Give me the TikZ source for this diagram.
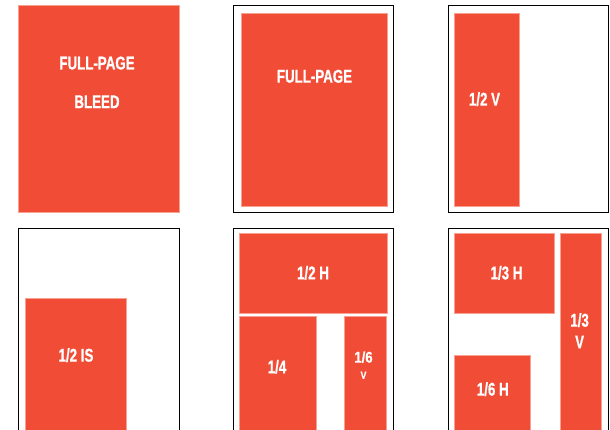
\documentclass[tikz,border=0pt]{standalone}
\usepackage{fontspec}
\setmainfont{Liberation Sans}[FakeStretch=0.72,BoldFeatures={FakeBold=0.8}]
\newfontfamily\smallfam{Liberation Sans}[FakeStretch=0.85,BoldFeatures={FakeBold=0.6}]
\definecolor{adred}{RGB}{241,76,54}
\definecolor{adedge}{RGB}{248,160,145}
\begin{document}
\begin{tikzpicture}[x=1pt,y=-1pt,
  ad/.style={fill=adred,draw=adedge,line width=0.5pt},
  page/.style={draw=black,line width=0.9pt},
  lbl/.style={text=white,font=\bfseries\fontsize{18.5}{20}\selectfont,inner sep=0pt,text height=13.3pt,text depth=0pt}]
\useasboundingbox (0,0) rectangle (610,430);
\begin{scope}
\clip (0,0) rectangle (610,430);
% top row
\path[ad] (18,5.5) rectangle (179,212.5);
\node[lbl] (fpb1) at (97,62.8) {FULL-PAGE};
\node[lbl] (fpb2) at (97,101.5) {BLEED};

\path[page] (233.5,5.5) rectangle (393.5,212.5);
\path[ad] (241,13.7) rectangle (387,206.7);
\node[lbl] (fp) at (314.5,76) {FULL-PAGE};

\path[page] (448.5,5.5) rectangle (608.5,212.5);
\path[ad] (454.4,13.7) rectangle (519,206.7);
\node[lbl] (hv) at (484.5,99) {1/2 V};

% bottom row
\path[page] (18.4,228.3) rectangle (179,440);
\path[ad] (25.4,298) rectangle (126,440);
\node[lbl] (his) at (76,355) {1/2 IS};

\path[page] (233.5,228.3) rectangle (393.5,440);
\path[ad] (239.3,233.7) rectangle (387.6,313.3);
\node[lbl] (hh) at (313,272.7) {1/2 H};
\path[ad] (239.3,316.7) rectangle (316.4,440);
\node[lbl] (q) at (277,366.7) {1/4};
\path[ad] (344,316.7) rectangle (386,440);
\node[lbl,font=\smallfam\bfseries\fontsize{15.5}{16}\selectfont,text height=11.2pt] (sv1) at (363.5,357) {1/6};
\node[lbl,font=\smallfam\bfseries\fontsize{10.5}{11}\selectfont,text height=7.6pt] (sv2) at (363.5,375) {V};

\path[page] (448.5,228.3) rectangle (608.5,440);
\path[ad] (454.4,233.7) rectangle (554.6,313.3);
\node[lbl] (th) at (506.5,272.7) {1/3 H};
\path[ad] (560,233.7) rectangle (601,440);
\node[lbl] (tv1) at (579.6,320) {1/3};
\node[lbl] (tv2) at (579.6,341.7) {V};
\path[ad] (454.4,355.3) rectangle (530,440);
\node[lbl] (sh) at (492.8,389) {1/6 H};
\end{scope}
\end{tikzpicture}
\end{document}
